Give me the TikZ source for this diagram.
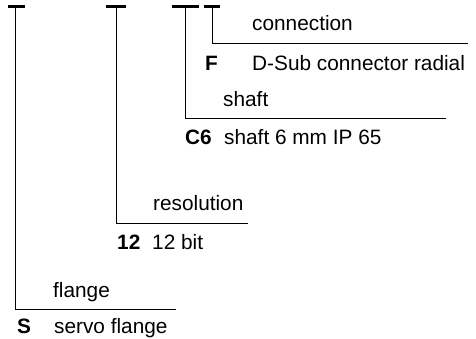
\documentclass[tikz,border=0pt]{standalone}
\usepackage{fontspec}
\setmainfont{Liberation Sans}
\begin{document}
\begin{tikzpicture}[x=1pt,y=-1pt,
  txt/.style={inner sep=0pt,anchor=base west,font=\fontsize{20.8}{24}\selectfont},
  key/.style={txt,font=\fontsize{20.8}{24}\selectfont\bfseries},
  bar/.style={line width=3pt},
  leader/.style={line width=1pt}]
\useasboundingbox (0,0) rectangle (476,338);
% bars
\coordinate (b1l) at (8,6.5);   \coordinate (b1r) at (25,6.5);   \coordinate (b1) at (15.5,6.5);
\coordinate (b2l) at (106,6.5); \coordinate (b2r) at (126,6.5);  \coordinate (b2) at (116,6.5);
\coordinate (b3l) at (172,6.5); \coordinate (b3r) at (199,6.5);  \coordinate (b3) at (185,6.5);
\coordinate (b4l) at (204,6.5); \coordinate (b4r) at (220,6.5);  \coordinate (b4) at (212,6.5);
\draw[bar] (b1l) -- (b1r);
\draw[bar] (b2l) -- (b2r);
\draw[bar] (b3l) -- (b3r);
\draw[bar] (b4l) -- (b4r);
% leader ends
\coordinate (e4) at (468,43);
\coordinate (e3) at (446,118);
\coordinate (e2) at (248,223);
\coordinate (e1) at (176,309);
\draw[leader] (b4) |- (e4);
\draw[leader] (b3) |- (e3);
\draw[leader] (b2) |- (e2);
\draw[leader] (b1) |- (e1);
% texts
\node[txt] (tconn) at (252,30) {connection};
\node[key] (kF) at (205,70) {F};
\node[txt] (tF) at (252,70) {D-Sub connector radial};
\node[txt] (tshaft) at (223,106) {shaft};
\node[key] (kC6) at (185,144) {C6};
\node[txt] (tC6) at (224,144) {shaft 6 mm IP 65};
\node[txt] (tres) at (153,210) {resolution};
\node[key] (k12) at (117,249) {12};
\node[txt] (t12) at (152,249) {12 bit};
\node[txt] (tfl) at (53,297) {flange};
\node[key] (kS) at (17,333) {S};
\node[txt] (tS) at (54,333) {servo flange};
\end{tikzpicture}
\end{document}
